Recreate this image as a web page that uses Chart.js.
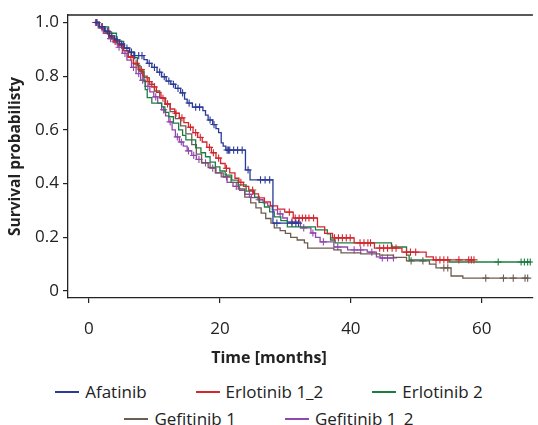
<!DOCTYPE html>
<html>
<head>
<meta charset="utf-8">
<script src="https://cdn.jsdelivr.net/npm/chart.js@4"></script>
<style>
  body { margin: 0; background: #fff; font-family: "Open Sans", sans-serif; }
  #wrap { width: 538px; height: 382px; position: relative; }
  #legend { width: 480px; margin: 0 auto; display: flex; flex-wrap: wrap; justify-content: center;
            column-gap: 49px; row-gap: 7px; font-size: 17px; line-height: 20px; color: #222; }
  .item { display: flex; align-items: center; white-space: nowrap; }
  .item span.sw { display: inline-block; width: 24px; height: 1.5px; margin-right: 6px; }
</style>
</head>
<body>
<div id="wrap"><canvas id="km"></canvas></div>
<div id="legend"></div>
<script>
// Kaplan-Meier curves: event steps [month, survival] and censor times (months)
const seriesNames = ['Afatinib', 'Erlotinib 1_2', 'Erlotinib 2', 'Gefitinib 1', 'Gefitinib 1_2'];
const seriesColors = ['#2b3a96', '#d4262e', '#1b7d43', '#6e5c50', '#9147ad'];

const afatinibSteps = [[0.9,1],[1.6,0.985],[2.4,0.968],[3.1,0.95],[3.9,0.935],[4.7,0.92],[5.4,0.905],[6.2,0.89],[6.9,0.877],
  [8.4,0.862],[8.9,0.848],[9.6,0.833],[10.4,0.815],[11.1,0.798],[11.8,0.782],[12.5,0.77],[13.2,0.755],[14.0,0.738],
  [14.6,0.715],[15.0,0.7],[15.8,0.685],[17.4,0.672],[17.8,0.655],[18.2,0.637],[18.9,0.62],[19.4,0.605],[19.8,0.59],
  [20.2,0.552],[20.5,0.54],[20.9,0.525],[23.9,0.451],[24.6,0.414],[28.1,0.253]];
const afatinibCensor = [1.2,2.0,2.8,3.5,4.3,5.0,5.8,6.5,7.0,7.6,8.1,9.2,10.0,10.8,11.5,12.2,12.9,13.6,14.3,15.3,16.3,16.9,
  18.5,19.1,21.1,21.3,21.5,22.1,22.7,23.4,24.3,26.2,26.9,27.6,28.7,31.0,31.6,32.0];

const erlotinib12Steps = [[0.9,1],[1.5,0.985],[2.3,0.965],[3.1,0.945],[3.9,0.93],[4.6,0.915],[5.3,0.895],[6.0,0.872],
  [6.8,0.848],[7.5,0.825],[8.2,0.8],[8.9,0.78],[9.6,0.76],[10.3,0.74],[11.0,0.718],[11.7,0.697],[12.4,0.678],[13.1,0.662],
  [13.8,0.645],[14.5,0.627],[15.2,0.61],[15.9,0.59],[16.6,0.572],[17.3,0.555],[18.0,0.535],[18.7,0.515],[19.4,0.495],
  [20.1,0.475],[20.8,0.457],[21.5,0.44],[22.3,0.42],[22.9,0.405],[23.6,0.39],[24.4,0.376],[25.1,0.362],[25.9,0.347],
  [26.8,0.332],[27.7,0.317],[28.8,0.305],[29.9,0.294],[31.2,0.272],[34.9,0.239],[36.0,0.215],[37.2,0.198],[40.5,0.179],
  [43.6,0.16],[47.8,0.145],[51.5,0.127],[52.6,0.116]];
const erlotinib12Censor = [1.2,2.0,3.0,4.0,5.0,6.4,7.2,8.0,9.2,10.0,11.3,12.0,13.3,14.2,15.5,16.3,17.0,18.4,19.0,19.8,
  21.0,23.2,25.0,30.6,31.5,32.1,32.6,33.1,33.6,34.3,37.5,38.1,38.7,39.3,39.9,41.4,42.0,42.6,43.0,44.4,45.0,45.6,46.3,46.9,
  48.5,49.1,49.9,53.0,53.6,54.2,54.8,56.5,58.0,58.4,58.8];

const erlotinib2Steps = [[0.9,1],[1.6,0.984],[3.0,0.96],[4.2,0.93],[5.3,0.905],[6.2,0.888],[6.9,0.869],[7.4,0.84],[7.8,0.816],
  [8.4,0.78],[8.6,0.75],[8.9,0.72],[9.6,0.7],[11.1,0.686],[11.6,0.665],[12.2,0.649],[12.9,0.625],[13.7,0.6],[14.3,0.58],
  [14.8,0.563],[16.3,0.533],[17.1,0.515],[17.8,0.5],[18.5,0.48],[19.3,0.462],[20.0,0.447],[20.8,0.432],[21.8,0.413],
  [22.8,0.395],[24.0,0.372],[25.3,0.35],[26.0,0.33],[26.8,0.313],[27.6,0.295],[28.3,0.276],[29.3,0.262],[30.3,0.239],
  [34.6,0.228],[36.4,0.213],[36.9,0.19],[37.6,0.179],[46.2,0.164],[48.5,0.134],[48.9,0.116],[55.0,0.108]];
const erlotinib2Censor = [62.5,66.0,66.5,67.0,67.4];

const gefitinib1Steps = [[0.9,1],[1.6,0.98],[2.5,0.96],[3.4,0.94],[4.3,0.918],[5.2,0.895],[6.0,0.87],[6.8,0.845],[7.6,0.82],
  [8.4,0.795],[9.2,0.77],[10.0,0.745],[10.8,0.72],[11.6,0.695],[12.4,0.668],[13.2,0.642],[14.0,0.615],[14.8,0.585],
  [15.7,0.545],[16.4,0.51],[17.2,0.478],[18.2,0.46],[19.3,0.44],[20.5,0.425],[21.7,0.405],[22.8,0.38],[23.8,0.35],
  [24.7,0.328],[25.5,0.31],[26.3,0.29],[27.0,0.27],[27.8,0.253],[28.3,0.235],[29.2,0.225],[30.0,0.215],[30.8,0.2],
  [31.8,0.19],[32.9,0.179],[33.4,0.16],[37.4,0.153],[38.5,0.142],[41.5,0.138],[44.4,0.134],[46.5,0.125],[48.5,0.112],
  [52.0,0.1],[53.0,0.086],[55.3,0.056],[57.1,0.048]];
const gefitinib1Censor = [49.2,51.0,54.2,54.8,60.6,63.3,64.8,66.6,67.0];

const gefitinib12Steps = [[0.9,1],[1.4,0.98],[2.2,0.96],[3.0,0.94],[3.7,0.925],[4.4,0.908],[5.1,0.885],[5.8,0.86],[6.5,0.833],
  [7.2,0.81],[7.9,0.785],[8.6,0.762],[9.3,0.742],[9.9,0.723],[10.5,0.7],[11.1,0.675],[11.7,0.652],[12.2,0.63],[12.7,0.6],
  [13.2,0.574],[13.8,0.555],[14.4,0.54],[15.0,0.522],[15.7,0.505],[16.4,0.49],[17.2,0.477],[18.5,0.458],[19.4,0.44],
  [20.2,0.425],[21.1,0.405],[22.0,0.39],[23.0,0.375],[23.8,0.36],[24.8,0.348],[25.8,0.34],[26.6,0.328],[27.3,0.317],
  [28.0,0.302],[28.8,0.287],[29.6,0.272],[30.3,0.257],[32.3,0.235],[33.9,0.216],[34.6,0.2],[35.3,0.183],[37.4,0.164],
  [39.5,0.153],[42.5,0.145],[43.9,0.127],[44.5,0.123]];
const gefitinib12Censor = [1.0,2.0,3.3,4.6,5.5,6.8,7.6,8.2,9.0,10.2,11.4,12.4,13.5,14.1,15.2,16.0,16.8,17.8,18.9,
  21.0,22.5,24.5,26.0,29.2,31.0,32.8,34.2,35.8,38.0,40.5,41.5,43.2,44.8,45.6,46.5];

const seriesSteps = [afatinibSteps, erlotinib12Steps, erlotinib2Steps, gefitinib1Steps, gefitinib12Steps];
const seriesCensor = [afatinibCensor, erlotinib12Censor, erlotinib2Censor, gefitinib1Censor, gefitinib12Censor];

const xTicks = [0, 20, 40, 60];
const yTicks = [0, 0.2, 0.4, 0.6, 0.8, 1.0];

// merge steps and censor marks (censor sits on the current level)
function buildPoints(steps, censor) {
  const pts = steps.map(s => ({ x: s[0], y: s[1], c: false }));
  censor.forEach(t => {
    let level = 1;
    steps.forEach(s => { if (s[0] <= t) level = s[1]; });
    pts.push({ x: t, y: level, c: true });
  });
  pts.sort((a, b) => a.x - b.x || (a.c ? 1 : -1));
  return pts;
}

const datasets = seriesNames.map((name, i) => ({
  label: name,
  data: buildPoints(seriesSteps[i], seriesCensor[i]),
  borderColor: seriesColors[i],
  backgroundColor: seriesColors[i],
  borderWidth: 1.3,
  stepped: true,
  fill: false,
  pointStyle: 'cross',
  pointRadius: ctx => (ctx.raw && ctx.raw.c ? 3.6 : 0),
  pointBorderWidth: 1.1,
  pointBorderColor: seriesColors[i]
}));

const topBorder = {
  id: 'topBorder',
  afterDraw(chart) {
    const { ctx, chartArea } = chart;
    ctx.save();
    ctx.strokeStyle = '#222';
    ctx.lineWidth = 1.3;
    ctx.beginPath();
    ctx.moveTo(chartArea.left, chartArea.top);
    ctx.lineTo(chartArea.right, chartArea.top);
    ctx.stroke();
    ctx.restore();
  }
};

const tickFont = { family: '"Open Sans", sans-serif', size: 17 };
const titleFont = { family: '"Open Sans", sans-serif', size: 16, weight: 'bold' };

new Chart(document.getElementById('km'), {
  type: 'line',
  data: { datasets },
  options: {
    responsive: true,
    maintainAspectRatio: false,
    animation: false,
    layout: { padding: { top: 15, right: 0, left: 0, bottom: 0 } },
    plugins: {
      legend: { display: false },
      tooltip: { enabled: false },
      title: {
        display: true, position: 'bottom', text: 'Time [months]',
        font: titleFont, color: '#222', padding: { top: 4, bottom: 14 }
      }
    },
    scales: {
      x: {
        type: 'linear', min: -3.2, max: 67.8,
        grid: { drawOnChartArea: false, drawTicks: true, tickLength: 5, color: '#222', lineWidth: 1.2 },
        border: { color: '#222', width: 1.3 },
        ticks: { font: tickFont, color: '#222', padding: 16, maxRotation: 0 },
        afterBuildTicks: s => { s.ticks = xTicks.map(v => ({ value: v })); },
        afterFit: s => { s.height = 46.8; }
      },
      y: {
        min: -0.026, max: 1.028,
        grid: { drawOnChartArea: false, drawTicks: true, tickLength: 5, color: '#222', lineWidth: 1.2 },
        border: { color: '#222', width: 1.3 },
        ticks: { font: tickFont, color: '#222', padding: 4, callback: v => (v === 0 ? '0' : v.toFixed(1)) },
        afterBuildTicks: s => { s.ticks = yTicks.map(v => ({ value: v })); },
        title: { display: true, text: 'Survival probabilisty', font: { family: '"Open Sans", sans-serif', size: 15.5, weight: 'bold' }, color: '#222', padding: { top: 6, bottom: 0 } },
        afterFit: s => { s.width = 68; }
      }
    }
  },
  plugins: [topBorder]
});

// legend below the chart
const legend = document.getElementById('legend');
seriesNames.forEach((name, i) => {
  const item = document.createElement('div');
  item.className = 'item';
  item.innerHTML = '<span class="sw" style="background:' + seriesColors[i] + '"></span>' + name;
  legend.appendChild(item);
});
</script>
</body>
</html>
